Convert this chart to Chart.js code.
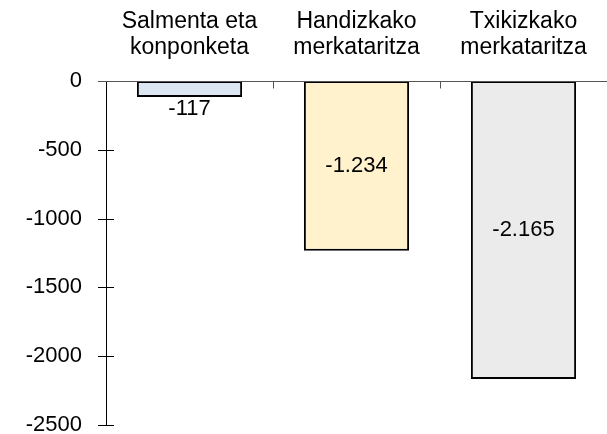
<!DOCTYPE html>
<html>
<head>
<meta charset="utf-8">
<script src="https://cdn.jsdelivr.net/npm/chart.js@4"></script>
<style>
    html, body { margin: 0; padding: 0; background: #fff; }
    #wrap { width: 607px; height: 434px; }
</style>
</head>
<body>
<div id="wrap"><canvas id="myChart"></canvas></div>
<script>
const categories = [
    ['Salmenta eta', 'konponketa'],
    ['Handizkako', 'merkataritza'],
    ['Txikizkako', 'merkataritza']
];
const values = [-117, -1234, -2165];
const barColors = ['#dce6f2', '#fff2cc', '#ebebeb'];
const yTicks = [0, -500, -1000, -1500, -2000, -2500];

const fontFamily = '"Liberation Sans", Arial, sans-serif';

// thousands with a dot, like the original
let fmt = (v) => {
    let s = Math.abs(v).toString().replace(/\B(?=(\d{3})+(?!\d))/g, '.');
    return (v < 0 ? '-' : '') + s;
};

// ticks crossing the axes and the value labels
const marksPlugin = {
    id: 'marks',
    afterDatasetsDraw(chart) {
        const ctx = chart.ctx;
        const x = chart.scales.x;
        const y = chart.scales.y;
        const area = chart.chartArea;
        ctx.save();
        ctx.strokeStyle = '#000';
        ctx.lineWidth = 1;
        // y axis line and crossing ticks
        ctx.beginPath();
        ctx.moveTo(area.left + 0.5, y.getPixelForValue(0));
        ctx.lineTo(area.left + 0.5, y.getPixelForValue(-2500));
        yTicks.forEach((t) => {
            const py = Math.round(y.getPixelForValue(t)) + 0.5;
            ctx.moveTo(area.left - 8, py);
            ctx.lineTo(area.left + 8, py);
        });
        ctx.stroke();
        // x axis line at zero and the category separators
        ctx.strokeStyle = '#555';
        ctx.beginPath();
        const zy = Math.round(y.getPixelForValue(0)) + 0.5;
        ctx.moveTo(area.left - 8, zy);
        ctx.lineTo(area.right, zy);
        for (let i = 1; i < categories.length; i++) {
            const px = Math.round((x.getPixelForValue(i - 1) + x.getPixelForValue(i)) / 2) + 0.5;
            ctx.moveTo(px, zy);
            ctx.lineTo(px, zy + 7);
        }
        ctx.stroke();
        // value labels
        ctx.fillStyle = '#000';
        ctx.font = '22px ' + fontFamily;
        ctx.textAlign = 'center';
        ctx.textBaseline = 'middle';
        const meta = chart.getDatasetMeta(0);
        meta.data.forEach((bar, i) => {
            const v = values[i];
            let ty;
            if (v > -300) {
                ty = bar.y + 12;
            } else {
                ty = y.getPixelForValue(v / 2);
            }
            ctx.fillText(fmt(v), bar.x, ty);
        });
        ctx.restore();
    }
};

const chartData = {
    labels: categories,
    datasets: [{
        data: values,
        backgroundColor: barColors,
        borderColor: '#000',
        borderWidth: 2,
        borderSkipped: false,
        categoryPercentage: 1,
        barPercentage: 0.63
    }]
};

const config = {
    type: 'bar',
    data: chartData,
    options: {
        responsive: true,
        maintainAspectRatio: false,
        animation: false,
        layout: {
            padding: { top: 0, right: 0, bottom: 0, left: 0 }
        },
        plugins: {
            legend: { display: false },
            tooltip: { enabled: false }
        },
        scales: {
            x: {
                position: 'top',
                grid: { display: false },
                border: { display: false },
                ticks: {
                    color: '#000',
                    font: { family: fontFamily, size: 23, lineHeight: 1.1 },
                    padding: 13
                },
                afterFit: (scale) => { scale.height = 81; }
            },
            y: {
                min: -2500,
                max: 0,
                grid: { display: false },
                border: { display: false },
                ticks: {
                    stepSize: 500,
                    color: '#000',
                    font: { family: fontFamily, size: 22 },
                    padding: 16,
                    callback: (v) => v.toString()
                },
                afterFit: (scale) => {
                    scale.width = 106;
                    scale.paddingTop = 0;
                    scale.paddingBottom = 9;
                }
            }
        }
    },
    plugins: [marksPlugin]
};

const myChart = new Chart(
    document.getElementById('myChart'),
    config
);
</script>
</body>
</html>
